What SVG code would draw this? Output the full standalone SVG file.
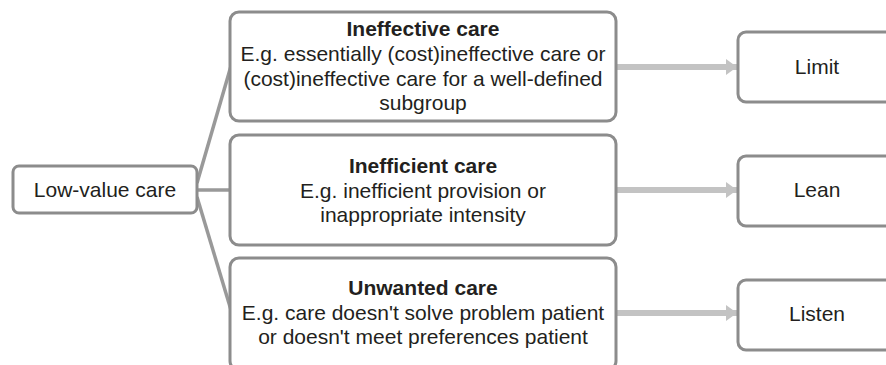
<svg xmlns="http://www.w3.org/2000/svg" width="886" height="365" viewBox="0 0 886 365">
<style>
.box{fill:#fff;stroke:#8c8c8c;stroke-width:3}
.t{font-family:"Liberation Sans",Arial,sans-serif;font-size:21px;fill:#231f20;text-anchor:middle}
.b{font-weight:bold}
.con{stroke:#999;stroke-width:3.5;fill:none}
.arr{stroke:#c3c3c3;stroke-width:6;fill:none}
</style>
<defs>
<marker id="ah" markerUnits="userSpaceOnUse" markerWidth="12" markerHeight="16" refX="11" refY="8" orient="auto">
<path d="M0,0 L11,8 L0,16 Z" fill="#c3c3c3"/>
</marker>
</defs>
<rect width="886" height="365" fill="#fff"/>
<g id="connectors">
<path class="con" d="M197,183 L231,66"/>
<path class="con" d="M197,190 L231,190"/>
<path class="con" d="M197,197 L231,310"/>
<path class="arr" d="M617,67 L737,67" marker-end="url(#ah)"/>
<path class="arr" d="M617,190 L737,190" marker-end="url(#ah)"/>
<path class="arr" d="M617,313 L737,313" marker-end="url(#ah)"/>
</g>
<g id="low">
<rect class="box" x="13" y="166" width="184" height="47" rx="6"/>
<text class="t" x="105" y="197">Low-value care</text>
</g>
<g id="ineffective">
<rect class="box" x="230" y="12" width="386" height="109" rx="9"/>
<text class="t b" x="423" y="36">Ineffective care</text>
<text class="t" x="423" y="61">E.g. essentially (cost)ineffective care or</text>
<text class="t" x="423" y="85.5">(cost)ineffective care for a well-defined</text>
<text class="t" x="423" y="110">subgroup</text>
</g>
<g id="inefficient">
<rect class="box" x="230" y="135" width="386" height="110" rx="9"/>
<text class="t b" x="423" y="173">Inefficient care</text>
<text class="t" x="423" y="197.5">E.g. inefficient provision or</text>
<text class="t" x="423" y="222">inappropriate intensity</text>
</g>
<g id="unwanted">
<rect class="box" x="230" y="258" width="386" height="112" rx="9"/>
<text class="t b" x="423" y="295">Unwanted care</text>
<text class="t" x="423" y="320">E.g. care doesn't solve problem patient</text>
<text class="t" x="423" y="344">or doesn't meet preferences patient</text>
</g>
<g id="limit">
<rect class="box" x="738" y="32" width="160" height="70" rx="8"/>
<text class="t" x="817" y="74">Limit</text>
</g>
<g id="lean">
<rect class="box" x="738" y="156" width="160" height="70" rx="8"/>
<text class="t" x="817" y="197">Lean</text>
</g>
<g id="listen">
<rect class="box" x="738" y="280" width="160" height="70" rx="8"/>
<text class="t" x="817" y="321">Listen</text>
</g>
</svg>
